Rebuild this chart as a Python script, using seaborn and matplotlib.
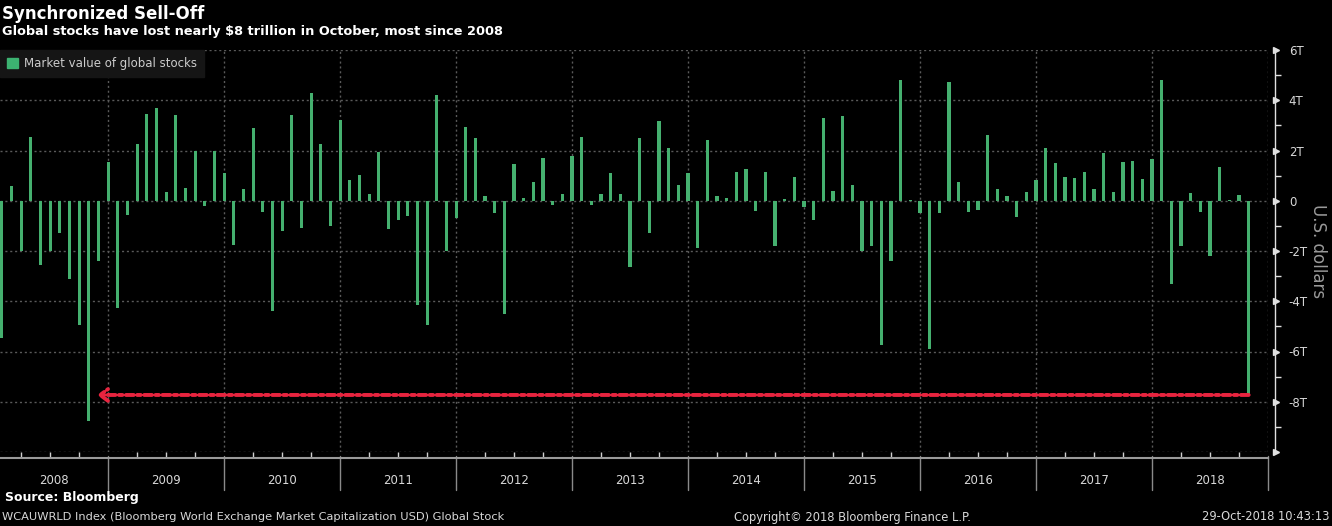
import numpy as np
import pandas as pd
import matplotlib
matplotlib.use("Agg")
import matplotlib.pyplot as plt
import matplotlib.patches as mpatches
import seaborn as sns

# monthly change in market value of global stocks, trillions of USD
vals_2008 = [-5.45, 0.6, -2.0, 2.55, -2.55, -2.0, -1.3, -3.1, -4.95, -8.75, -2.4, 1.55]
vals_2009 = [-4.25, -0.55, 2.25, 3.45, 3.7, 0.35, 3.4, 0.5, 2.0, -0.2, 2.0, 1.1]
vals_2010 = [-1.75, 0.45, 2.9, -0.45, -4.4, -1.2, 3.4, -1.1, 4.3, 2.25, -1.0, 3.2]
vals_2011 = [0.83, 1.03, 0.28, 1.96, -1.12, -0.76, -0.6, -4.16, -4.96, 4.2, -1.99, -0.68]
vals_2012 = [2.95, 2.48, 0.2, -0.49, -4.52, 1.45, 0.12, 0.76, 1.69, -0.17, 0.28, 1.8]
vals_2013 = [2.55, -0.17, 0.28, 1.1, 0.28, -2.64, 2.5, -1.27, 3.17, 2.08, 0.64, 1.1]
vals_2014 = [-1.89, 2.4, 0.2, 0.1, 1.15, 1.27, -0.41, 1.15, -1.79, 0.07, 0.95, -0.23]
vals_2015 = [-0.76, 3.29, 0.4, 3.37, 0.64, -2.01, -1.79, -5.73, -2.41, 4.81, 0.04, -0.49]
vals_2016 = [-5.89, -0.49, 4.71, 0.75, -0.45, -0.37, 2.63, 0.47, 0.2, -0.65, 0.35, 0.84]
vals_2017 = [2.08, 1.49, 0.96, 0.92, 1.15, 0.48, 1.92, 0.36, 1.53, 1.57, 0.88, 1.65]
vals_2018 = [4.8, -3.31, -1.8, 0.32, -0.43, -2.19, 1.35, 0.02, 0.21, -7.73]

years = [2008, 2009, 2010, 2011, 2012, 2013, 2014, 2015, 2016, 2017, 2018]
y_ticks = [6, 4, 2, 0, -2, -4, -6, -8, -10]
y_labels = ["6T", "4T", "2T", "0", "-2T", "-4T", "-6T", "-8T", ""]

values = (vals_2008 + vals_2009 + vals_2010 + vals_2011 + vals_2012 + vals_2013
          + vals_2014 + vals_2015 + vals_2016 + vals_2017 + vals_2018)
months = pd.period_range("2008-01", periods=len(values), freq="M").astype(str)
df = pd.DataFrame({"month": months, "value": values})

green = "#45b06f"
red = "#e8243f"
grid_col = "#5a5a5a"
txt_col = "#d8d8d8"

sns.set_theme(style="dark")
plt.rcParams["font.family"] = ["DejaVu Sans"]

fig = plt.figure(figsize=(13.32, 5.26), dpi=100, facecolor="black")
ax = fig.add_axes([0, 74 / 526, 1268 / 1332, 402 / 526])
ax.set_facecolor("black")

sns.barplot(data=df, x="month", y="value", color=green, saturation=1,
            width=0.32, ax=ax, legend=False, edgecolor="none", linewidth=0)

ax.set_xlim(-0.18, 131)
ax.set_ylim(-10, 6)

# grid
for y in y_ticks:
    ax.axhline(y, color=grid_col, lw=1, ls=(0, (1.5, 2)), zorder=0)
for k in range(len(years)):
    ax.axvline(11 + 12 * k, color=grid_col, lw=1, ls=(0, (1.5, 2)), zorder=0)

# spines
for s in ["left", "top"]:
    ax.spines[s].set_visible(False)
ax.spines["bottom"].set_position(("outward", 4))
ax.spines["bottom"].set_color("#9a9a9a")
ax.spines["bottom"].set_linewidth(1.5)
ax.spines["right"].set_position(("outward", 5))
ax.spines["right"].set_color("#e0e0e0")
ax.spines["right"].set_linewidth(1)

# right y axis
ax.yaxis.tick_right()
ax.set_yticks(y_ticks)
ax.set_yticklabels(y_labels)
ax.set_yticks([5, 3, 1, -1, -3, -5, -7, -9], minor=True)
ax.tick_params(axis="y", which="major", length=0, pad=10, labelsize=8.5,
               labelcolor=txt_col, right=True, left=False)
ax.tick_params(axis="y", which="minor", length=4, width=1, color="#e0e0e0",
               direction="out", right=True, left=False)
ytr = ax.get_yaxis_transform()
ax.plot([1.0065] * len(y_ticks), y_ticks, ls="none", marker=">", ms=5,
        color="#e0e0e0", transform=ytr, clip_on=False)
ax.yaxis.set_label_position("right")
ax.set_ylabel("U.S. dollars", rotation=270, color="#9a9a9a", fontsize=12,
              labelpad=14)

# bottom axis: quarterly ticks, year separators and labels
ax.set_xlabel("")
qt = [q for q in np.arange(2, 131, 3) if (q - 11) % 12 != 0]
ax.set_xticks(qt)
ax.set_xticklabels([])
ax.tick_params(axis="x", which="major", direction="in", length=4, width=1,
               color="#cfcfcf", bottom=True)
xtr = ax.get_xaxis_transform()
for k, yr in enumerate(years):
    end = 11 + 12 * k
    ax.plot([end, end], [-0.01, -0.095], color="#8a8a8a", lw=1,
            transform=xtr, clip_on=False)
    start = max(-1 + 12 * k, -0.18)
    ax.text((start + end) / 2, -0.07, str(yr), transform=xtr, ha="center",
            va="center", color=txt_col, fontsize=8.5)

# red arrow from Oct 2018 back to 2008
ax.annotate("", xy=(9.85, values[-1]), xytext=(129, values[-1]),
            arrowprops=dict(arrowstyle="->,head_length=0.4,head_width=0.3",
                            color=red, lw=2.8, ls=(0, (2, 0.9, 0.9, 0.9)),
                            mutation_scale=14, shrinkA=0, shrinkB=0))

# legend
handle = mpatches.Patch(color="#3cb371", label="Market value of global stocks")
leg = ax.legend(handles=[handle], loc="upper left", bbox_to_anchor=(0, 1),
                borderaxespad=0, frameon=True, facecolor="#151515",
                edgecolor="#151515", framealpha=1, fancybox=False,
                fontsize=8.5, handlelength=0.9, handleheight=0.9,
                handletextpad=0.5, borderpad=0.6)
for t in leg.get_texts():
    t.set_color("#cccccc")

# titles and footer
fig.text(2 / 1332, 1 - 14 / 526, "Synchronized Sell-Off", color="white",
         fontsize=12, fontweight="bold", va="center")
fig.text(2 / 1332, 1 - 32 / 526,
         "Global stocks have lost nearly $8 trillion in October, most since 2008",
         color="white", fontsize=9.3, fontweight="bold", va="center")
fig.text(5 / 1332, 1 - 498 / 526, "Source: Bloomberg", color="white",
         fontsize=9, fontweight="bold", va="center")
fig.text(2 / 1332, 1 - 517 / 526,
         "WCAUWRLD Index (Bloomberg World Exchange Market Capitalization USD) Global Stock",
         color=txt_col, fontsize=8.2, va="center")
fig.text(852 / 1332, 1 - 517 / 526, "Copyright\u00a9 2018 Bloomberg Finance L.P.",
         color=txt_col, fontsize=8.3, va="center", ha="center")
fig.text(1330 / 1332, 1 - 517 / 526, "29-Oct-2018 10:43:13", color=txt_col,
         fontsize=8.3, va="center", ha="right")

fig.savefig("out.png", dpi=100, facecolor="black")
